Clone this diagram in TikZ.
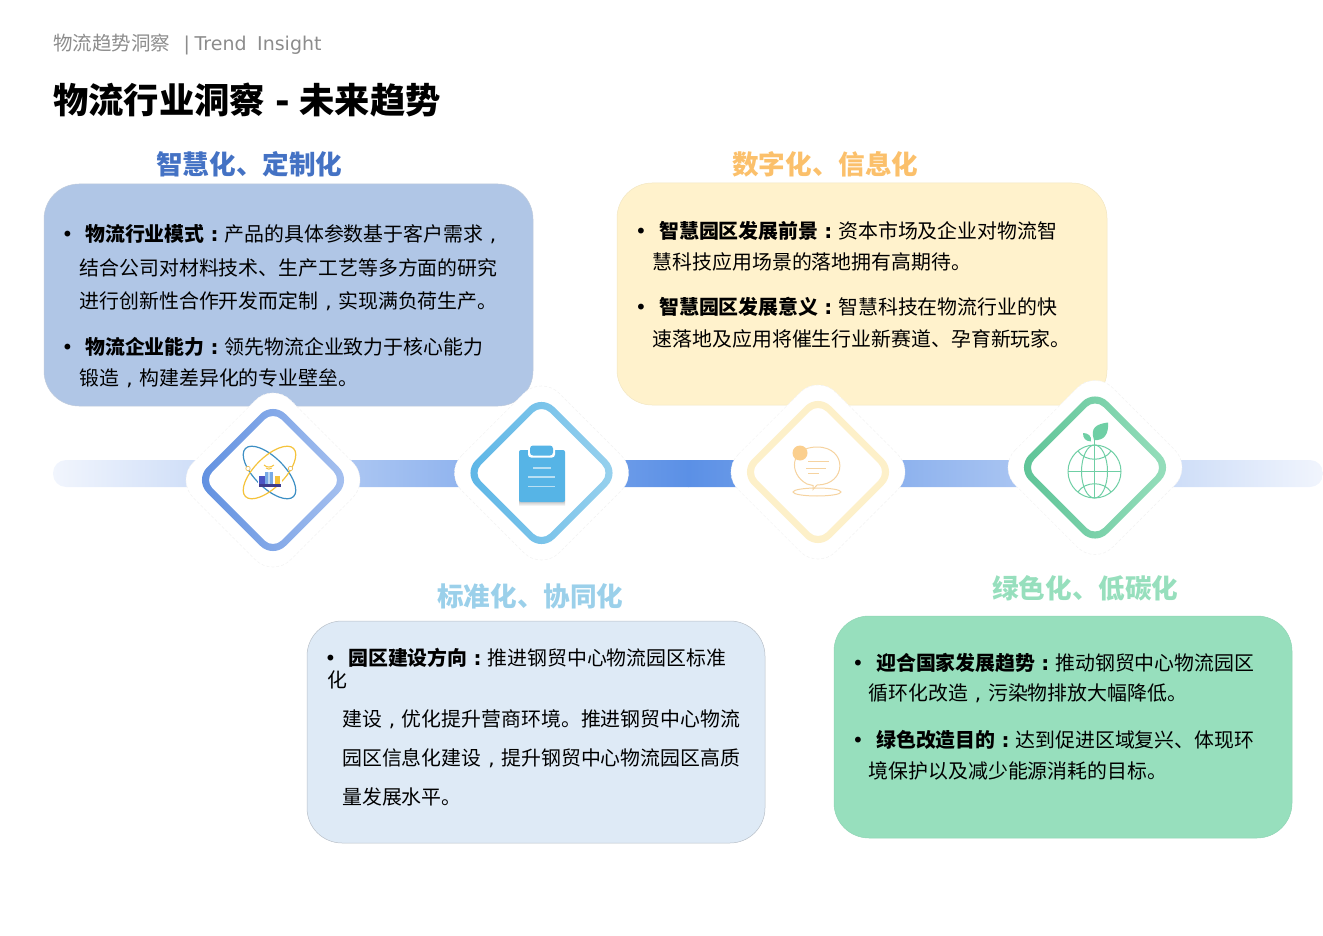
\documentclass[tikz,border=0pt]{standalone}
\usepackage{fontspec}
\setmainfont{DejaVu Sans}
\newfontfamily\cjk{Noto Sans CJK SC}
\newfontfamily\latn{DejaVu Sans}
\definecolor{cardA}{HTML}{B0C6E6}
\definecolor{cardB}{HTML}{FFF2CC}
\definecolor{cardC}{HTML}{DEEAF6}
\definecolor{cardD}{HTML}{97DFBD}
\definecolor{headA}{HTML}{4472C4}
\definecolor{headB}{HTML}{FBC06B}
\definecolor{headC}{HTML}{9BD0EA}
\definecolor{headD}{HTML}{97DFBD}
\definecolor{greytxt}{HTML}{8C8C8C}
\definecolor{globegreen}{HTML}{6FCFA5}
\definecolor{peach}{HTML}{F6D3A0}
\definecolor{barmid}{HTML}{5B90E6}
\definecolor{barend}{HTML}{F1F5FD}
\definecolor{ringAl}{HTML}{5F8FE0}
\definecolor{ringAr}{HTML}{A8C2F0}
\definecolor{ringBl}{HTML}{5BB5E6}
\definecolor{ringBr}{HTML}{9AD2EE}
\definecolor{ringC}{HTML}{FDF0C9}
\definecolor{ringDl}{HTML}{5CC396}
\definecolor{ringDr}{HTML}{98DFBD}
\definecolor{orbitB}{HTML}{3D8FC4}
\definecolor{orbitY}{HTML}{F5C33B}
\definecolor{orbitD}{HTML}{EBBE5A}
\definecolor{cityA}{HTML}{4B55C4}
\definecolor{cityB}{HTML}{78AAE6}
\definecolor{cityC}{HTML}{BED7F0}
\definecolor{cityD}{HTML}{3C3C8C}
\definecolor{clipblue}{HTML}{56B4E6}
\definecolor{cliplight}{HTML}{B8DFF3}
\definecolor{peachdot}{HTML}{FBCF8E}
\newcommand{\zc}{\makebox[19.9pt]{\latn ,}}
\newcommand{\bc}{\makebox[19.9pt]{\latn\bfseries :}}
\newcommand{\dia}[3]{({#1-#3},#2) -- (#1,{#2-#3}) -- ({#1+#3},#2) -- (#1,{#2+#3}) -- cycle}
\newcommand{\tile}[4]{%
  \path[fill=white,draw=black!5,densely dashed,line width=.5pt,rounded corners=25pt] \dia{#1}{#2}{97.4};
  \shade[even odd rule,left color=#3,right color=#4,rounded corners=18pt] \dia{#1}{#2}{78.5} [rounded corners=12pt] \dia{#1}{#2}{69};
}
\tikzset{
  bodytxt/.style={anchor=base west,inner sep=0pt,yshift=.4pt,font=\fontsize{19.9}{24}\selectfont\cjk},
  bul/.style={anchor=base,inner sep=0pt,yshift=.4pt,font=\fontsize{20}{24}\selectfont\latn},
  headtxt/.style={anchor=base west,inner sep=0pt,font=\fontsize{26.6}{30}\selectfont\cjk\bfseries},
  card/.style={rounded corners=35pt,line width=.5pt}
}
\begin{document}
\begin{tikzpicture}[x=1pt,y=-1pt]
\useasboundingbox (0,0) rectangle (1323,936);
% title
\node[anchor=base west,inner sep=0pt,text=greytxt,font=\fontsize{19.5}{24}\selectfont\cjk] (sub) at (53,51)
  {物流趋势洞察\hspace{13.5pt}{\latn\fontsize{19}{24}\selectfont| \hspace{-1.5pt}Trend\hspace{4.5pt} Insight}};
\node[anchor=base west,inner sep=0pt,font=\fontsize{35.3}{40}\selectfont\cjk\bfseries] (title) at (53,114)
  {物流行业洞察\hspace{10.5pt}{\latn -}\hspace{9.5pt}未来趋势};
% headings
\node[headtxt,text=headA] (headA) at (156,175) {智慧化、定制化};
\node[headtxt,text=headB] (headB) at (732,175) {数字化、信息化};
\node[headtxt,text=headC] (headC) at (437,606.5) {标准化、协同化};
\node[headtxt,text=headD] (headD) at (992,598.5) {绿色化、低碳化};
% cards
\path[card,fill=cardA,draw=cardA!85!black!60] (44,184) rectangle (533,406);
\path[card,fill=cardB,draw=cardB!95!black] (617,183) rectangle (1107,405);
\path[card,fill=cardC,draw=cardC!75!black!80] (307,621) rectangle (765,843);
\path[card,fill=cardD,draw=cardD!95!black] (834,616) rectangle (1292,838);
% bar
\begin{scope}
\clip[rounded corners=13pt] (53,460) rectangle (1323,487);
\shade[left color=barend,right color=barmid] (53,460) rectangle (688.5,487);
\shade[left color=barmid,right color=barend] (688,460) rectangle (1323,487);
\end{scope}
% tiles
\tile{273}{480}{ringAl}{ringAr}
\tile{541.5}{473}{ringBl}{ringBr}
\tile{818}{472}{ringC}{ringC}
\tile{1095}{467.5}{ringDl}{ringDr}
% card A text
\node[bul] (a0) at (67.5,242.3) {•};
\node[bodytxt] (a1) at (85,242.3) {{\bfseries 物流行业模式\bc}产品的具体参数基于客户需求\zc};
\node[bodytxt] (a2) at (79.5,276.3) {结合公司对材料技术、生产工艺等多方面的研究};
\node[bodytxt] (a3) at (79.5,309.3) {进行创新性合作开发而定制\zc 实现满负荷生产。};
\node[bul] (a4) at (67.5,355.3) {•};
\node[bodytxt] (a5) at (85,355.3) {{\bfseries 物流企业能力\bc}领先物流企业致力于核心能力};
\node[bodytxt] (a6) at (79.5,386.3) {锻造\zc 构建差异化的专业壁垒。};
% card B text
\node[bul] (b0) at (641,239.3) {•};
\node[bodytxt] (b1) at (659,239.3) {{\bfseries 智慧园区发展前景\bc}资本市场及企业对物流智};
\node[bodytxt] (b2) at (652.5,270.3) {慧科技应用场景的落地拥有高期待。};
\node[bul] (b3) at (641,315.3) {•};
\node[bodytxt] (b4) at (659,315.3) {{\bfseries 智慧园区发展意义\bc}智慧科技在物流行业的快};
\node[bodytxt] (b5) at (652.5,347.3) {速落地及应用将催生行业新赛道、孕育新玩家。};
% card C text
\node[bul] (c0) at (330.5,666.3) {•};
\node[bodytxt] (c1) at (348,666.3) {{\bfseries 园区建设方向\bc}推进钢贸中心物流园区标准};
\node[bodytxt] (c2) at (327,688) {化};
\node[bodytxt] (c3) at (342,727.3) {建设\zc 优化提升营商环境。推进钢贸中心物流};
\node[bodytxt] (c4) at (342,766.3) {园区信息化建设\zc 提升钢贸中心物流园区高质};
\node[bodytxt] (c5) at (342,805.3) {量发展水平。};
% card D text
\node[bul] (d0) at (858,671.3) {•};
\node[bodytxt] (d1) at (876,671.3) {{\bfseries 迎合国家发展趋势\bc}推动钢贸中心物流园区};
\node[bodytxt] (d2) at (868.5,701.3) {循环化改造\zc 污染物排放大幅降低。};
\node[bul] (d3) at (858,748.3) {•};
\node[bodytxt] (d4) at (876,748.3) {{\bfseries 绿色改造目的\bc}达到促进区域复兴、体现环};
\node[bodytxt] (d5) at (868.5,779.3) {境保护以及减少能源消耗的目标。};
% icon 1: city in orbits
\draw[line width=1.2pt,color=orbitB] (269.5,472.5) ellipse [x radius=34pt,y radius=15pt,rotate=-45];
\draw[line width=1.2pt,color=orbitY] (269.5,472.5) ellipse [x radius=34pt,y radius=15pt,rotate=45];
\fill[white] (257.5,470) rectangle (282,487);
\fill[cityA] (259,476) rectangle (265,484);
\fill[cityB] (265,471.5) rectangle (272.5,485);
\fill[cityC] (268,471.5) rectangle (270,485);
\fill[orbitY] (274.5,475.5) rectangle (279.5,484);
\fill[cityD] (258.5,484) rectangle (281,486.5);
\draw[line width=1pt,orbitY] (264,465) arc[start angle=-135,end angle=-45,radius=7pt];
\draw[line width=1pt,orbitY] (266,468) arc[start angle=-135,end angle=-45,radius=4pt];
\draw[line width=.7pt,draw=orbitD,fill=white] (248,468.5) circle (2.2pt);
\draw[line width=.7pt,draw=orbitD,fill=white] (290.5,468.5) circle (2.2pt);
% icon 2: clipboard
\shade[top color=black!30,bottom color=white] (519,500) rectangle (565,506);
\fill[clipblue,rounded corners=2pt] (519,450) rectangle (565,502);
\fill[white,rounded corners=3pt] (528,444) rectangle (555,457.5);
\fill[clipblue,rounded corners=3pt] (530,445.5) rectangle (553,455.5);
\draw[line width=1.3pt,cliplight] (533,468) -- (551,468) (528,477) -- (555,477) (528,486.5) -- (555,486.5);
% icon 3: speech bubble
\draw[peach,line width=1pt] (817,492) ellipse [x radius=24pt,y radius=4pt];
\draw[peach,line width=1pt,fill=white] (807,484) .. controls (788,474) and (790,447) .. (817,447) .. controls (848,447) and (847,485) .. (817,485) -- (813,489.5) -- (813,485.5) -- cycle;
\fill[peachdot] (800,453) circle (7.5pt);
\draw[peach,line width=1pt] (808,461) -- (829,461) (806,468) -- (826,468) (808,473.5) -- (819,473.5);
% icon 4: globe and sprout
\begin{scope}[globegreen,line width=1pt]
\draw (1094.5,471.5) circle (26.5pt);
\draw (1094.5,471.5) ellipse [x radius=13pt,y radius=26.5pt];
\draw (1068,471.5) -- (1121,471.5) (1094.5,431) -- (1094.5,498);
\draw (1078,451) .. controls (1085,462) and (1104,462) .. (1111,451);
\draw (1078,492) .. controls (1085,481) and (1104,481) .. (1111,492);
\fill (1094,440) .. controls (1090,428) and (1096,424) .. (1108,422.5) .. controls (1109,434) and (1104,441) .. (1094,440) -- cycle;
\fill (1091,441.5) .. controls (1085,441) and (1083,438) .. (1083,433) .. controls (1088,433) and (1092,436) .. (1091,441.5) -- cycle;
\end{scope}
\end{tikzpicture}
\end{document}
